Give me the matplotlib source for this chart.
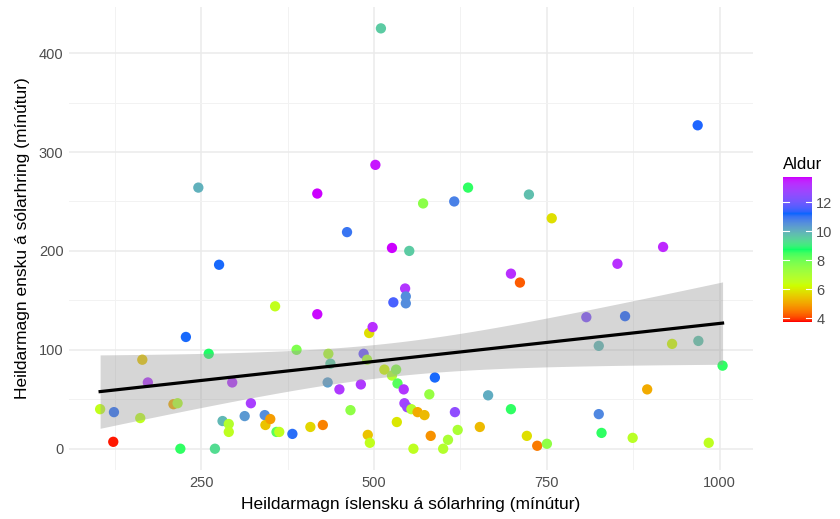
import numpy as np
import matplotlib
matplotlib.use("Agg")
import matplotlib.pyplot as plt
from matplotlib.colors import ListedColormap, Normalize, to_rgb

# minutes per day, icelandic vs english, colored by age
islenska = [104, 124, 123, 165, 173, 162, 210, 216, 228, 220, 276, 261, 270, 281, 290, 290, 295, 313, 322, 342,
            343, 350, 357, 359, 363, 382, 388, 408, 418, 426, 434, 437, 433, 450, 466, 481, 485, 490, 491, 494,
            493, 498, 515, 526, 532, 534, 528, 533, 543, 545, 546, 546, 544, 548, 557, 554, 563, 573, 582, 580,
            588, 600, 607, 617, 621, 653, 665, 698, 698, 711, 721, 736, 750, 807, 825, 825, 829, 852, 863, 874,
            895, 931, 918, 969, 984, 1004, 510, 246, 418, 502, 461, 526, 551, 968, 636, 571, 616, 724, 757]
enska = [40, 37, 7, 90, 67, 31, 45, 46, 113, 0, 186, 96, 0, 28, 25, 17, 67, 33, 46, 34,
         24, 30, 144, 17, 17, 15, 100, 22, 136, 24, 96, 86, 67, 60, 39, 65, 96, 90, 14, 6,
         117, 123, 80, 74, 80, 66, 148, 27, 60, 162, 154, 147, 46, 42, 0, 40, 37, 34, 13, 55,
         72, 0, 9, 37, 19, 22, 54, 40, 177, 168, 13, 3, 5, 133, 104, 35, 16, 187, 134, 11,
         60, 106, 204, 109, 6, 84, 425, 264, 258, 287, 219, 203, 200, 327, 264, 248, 250, 257, 233]
aldur = [6.5, 11.1, 3.8, 5.5, 13.2, 6.6, 5.1, 6.8, 11.2, 8.6, 11.2, 8.7, 9.3, 9.9, 6.8, 6.6, 13.2, 10.4, 13.0, 10.6,
         5.4, 4.9, 6.5, 8.3, 6.6, 11.1, 7.8, 5.7, 13.7, 4.6, 6.9, 9.6, 10.3, 13.1, 7.5, 13.1, 12.0, 7.0, 5.4, 6.5,
         5.8, 13.3, 6.2, 6.9, 7.6, 8.3, 11.6, 5.9, 13.2, 13.2, 10.6, 10.6, 12.9, 12.7, 6.6, 6.8, 5.1, 5.3, 4.8, 7.4,
         11.2, 6.8, 7.0, 12.5, 7.0, 5.3, 10.1, 8.6, 13.3, 4.2, 5.8, 4.5, 7.5, 12.3, 9.9, 10.7, 8.6, 13.3, 11.3, 6.7,
         5.1, 6.2, 13.4, 9.7, 6.6, 8.6, 9.6, 10.0, 13.8, 13.6, 11.0, 13.8, 9.6, 11.3, 8.6, 7.6, 10.8, 9.8, 5.8]

rainbow5 = ["#FF0000", "#CCFF00", "#00FF66", "#0066FF", "#CC00FF"]
age_min, age_max = 3.75, 13.75


def srgb_to_lab(c):
    c = np.asarray(c, float)
    lin = np.where(c <= 0.04045, c / 12.92, ((c + 0.055) / 1.055) ** 2.4)
    m = np.array([[0.4124, 0.3576, 0.1805], [0.2126, 0.7152, 0.0722], [0.0193, 0.1192, 0.9505]])
    xyz = m @ lin / np.array([0.95047, 1.0, 1.08883])
    f = np.where(xyz > 0.008856, np.cbrt(xyz), 7.787 * xyz + 16 / 116)
    return np.array([116 * f[1] - 16, 500 * (f[0] - f[1]), 200 * (f[1] - f[2])])


def lab_to_srgb(lab):
    L, a, b = lab
    fy = (L + 16) / 116
    fx = fy + a / 500
    fz = fy - b / 200
    f = np.array([fx, fy, fz])
    xyz = np.where(f ** 3 > 0.008856, f ** 3, (f - 16 / 116) / 7.787) * np.array([0.95047, 1.0, 1.08883])
    minv = np.array([[3.2406, -1.5372, -0.4986], [-0.9689, 1.8758, 0.0415], [0.0557, -0.2040, 1.0570]])
    lin = np.clip(minv @ xyz, 0, 1)
    c = np.where(lin <= 0.0031308, 12.92 * lin, 1.055 * lin ** (1 / 2.4) - 0.055)
    return np.clip(c, 0, 1)


labs = [srgb_to_lab(to_rgb(c)) for c in rainbow5]
cols = []
for t in np.linspace(0, 1, 256):
    pos = t * (len(labs) - 1)
    i = min(int(pos), len(labs) - 2)
    w = pos - i
    cols.append(lab_to_srgb((1 - w) * labs[i] + w * labs[i + 1]))
cmap = ListedColormap(cols)
norm = Normalize(age_min, age_max)

plt.rcParams["font.family"] = ["Liberation Sans", "DejaVu Sans"]

fig = plt.figure(figsize=(8.4, 5.19), dpi=100)
ax = fig.add_axes([69 / 840, 1 - 470 / 519, 684 / 840, 463 / 519])

x = np.array(islenska, float)
y = np.array(enska, float)
ax.scatter(x, y, c=aldur, cmap=cmap, norm=norm, s=55, linewidths=0, zorder=2)

# linear fit with 95% confidence band
n = len(x)
b1, b0 = np.polyfit(x, y, 1)
xs = np.linspace(x.min(), x.max(), 80)
fit = b0 + b1 * xs
resid = y - (b0 + b1 * x)
s = np.sqrt(np.sum(resid ** 2) / (n - 2))
se = s * np.sqrt(1 / n + (xs - x.mean()) ** 2 / np.sum((x - x.mean()) ** 2))
ax.fill_between(xs, fit - 1.985 * se, fit + 1.985 * se, color="#999999", alpha=0.4, linewidth=0, zorder=3)
ax.plot(xs, fit, color="black", linewidth=2.3, zorder=4)

ax.set_xlim(59, 1048)
ax.set_ylim(-21.5, 446.6)
ax.set_xticks([250, 500, 750, 1000])
ax.set_yticks([0, 100, 200, 300, 400])
ax.set_xticks([125, 375, 625, 875], minor=True)
ax.set_yticks([50, 150, 250, 350], minor=True)
ax.grid(which="major", color="#EBEBEB", linewidth=1.1)
ax.grid(which="minor", color="#F2F2F2", linewidth=0.7)
ax.set_axisbelow(True)
for sp in ax.spines.values():
    sp.set_visible(False)
ax.tick_params(which="both", length=0, labelsize=10.5, labelcolor="#4D4D4D", pad=4)
ax.set_xlabel("Heildarmagn íslensku á sólarhring (mínútur)", fontsize=12.5, labelpad=5)
ax.set_ylabel("Heildarmagn ensku á sólarhring (mínútur)", fontsize=12.5, labelpad=6)

# colorbar legend
cax = fig.add_axes([783 / 840, 1 - 322 / 519, 29 / 840, 145 / 519])
grad = np.linspace(age_min, age_max, 300).reshape(-1, 1)
cax.imshow(grad, aspect="auto", cmap=cmap, norm=norm, origin="lower",
           extent=[0, 1, age_min, age_max])
cax.set_xlim(0, 1)
cax.set_ylim(age_min, age_max)
for v in [4, 6, 8, 10, 12]:
    cax.plot([0, 0.2], [v, v], color="white", linewidth=0.8)
    cax.plot([0.8, 1], [v, v], color="white", linewidth=0.8)
cax.set_xticks([])
cax.set_yticks([4, 6, 8, 10, 12])
cax.yaxis.tick_right()
cax.tick_params(length=0, labelsize=10.5, labelcolor="#4D4D4D", pad=3)
for sp in cax.spines.values():
    sp.set_visible(False)
cax.set_title("Aldur", fontsize=12, loc="left", pad=6)

fig.savefig("out.png", dpi=100)
